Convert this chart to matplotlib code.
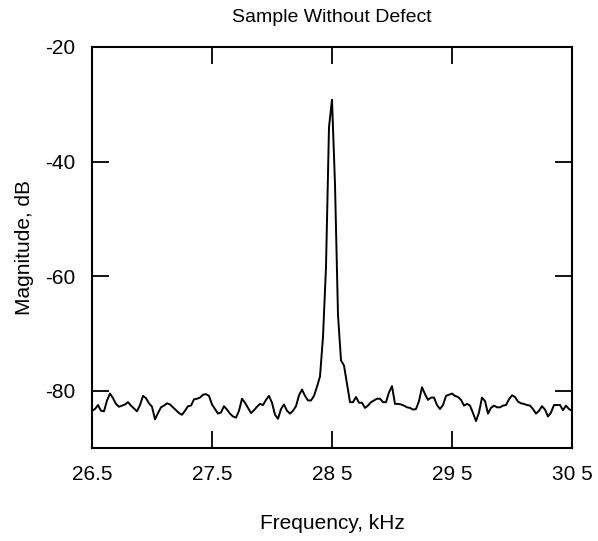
import numpy as np
import matplotlib
matplotlib.use("Agg")
import matplotlib.pyplot as plt

plt.rcParams['font.family'] = ['Liberation Sans', 'DejaVu Sans']

# frequency grid, kHz (0.025 kHz step)
freq = np.linspace(26.5, 30.5, 161)

# magnitude, dB
magnitude = [
    -83.5, -83.2, -82.5, -83.5, -83.6, -81.7, -80.5, -81.3, -82.3, -82.8,
    -82.6, -82.4, -82.0, -82.6, -83.1, -83.6, -82.5, -80.9, -81.3, -82.2,
    -82.8, -85.0, -83.9, -82.9, -82.6, -82.2, -82.4, -82.9, -83.4, -83.9,
    -84.2, -83.5, -82.7, -82.6, -81.5, -81.4, -81.2, -80.7, -80.6, -80.9,
    -82.4, -83.2, -84.0, -83.8, -82.7, -83.3, -84.0, -84.5, -84.7, -83.5,
    -81.4, -82.1, -83.0, -83.9, -83.4, -82.8, -82.3, -82.5, -81.6, -80.9,
    -82.1, -84.2, -84.9, -83.2, -82.4, -83.5, -84.0, -83.5, -82.7, -80.8,
    -79.8, -80.9, -81.7, -81.7, -80.9, -79.3, -77.5, -70.6, -58.4, -34.0,
    -29.2, -44.0, -66.8, -74.7, -75.6, -78.8, -82.0, -82.0, -81.1, -82.1,
    -82.1, -83.0, -82.6, -82.0, -81.7, -81.4, -81.4, -82.0, -82.0, -80.3,
    -79.2, -82.3, -82.3, -82.4, -82.6, -82.9, -83.0, -83.3, -83.2, -81.8,
    -79.4, -80.6, -81.6, -81.2, -81.2, -82.5, -83.2, -82.5, -80.9, -80.7,
    -80.5, -80.9, -81.1, -81.6, -82.6, -82.3, -82.6, -83.9, -85.3, -83.8,
    -81.2, -81.8, -84.0, -83.0, -82.6, -82.9, -82.9, -82.6, -82.5, -81.5,
    -80.8, -81.1, -81.9, -82.2, -82.3, -82.5, -82.6, -83.2, -84.0, -83.5,
    -82.7, -83.3, -84.5, -83.8, -82.5, -82.5, -82.5, -83.4, -82.6, -83.2,
    -83.5,
]

xticks = [26.5, 27.5, 28.5, 29.5, 30.5]
xtick_labels = ["26.5", "27.5", "28 5", "29 5", "30 5"]
yticks = [-20, -40, -60, -80]
ytick_labels = ["-20", "-40", "-60", "-80"]

fig = plt.figure(figsize=(5.98, 5.41), dpi=100)
ax = fig.add_axes([92 / 598, 1 - 448 / 541, 480 / 598, 401 / 541])

ax.plot(freq, magnitude, color='black', lw=1.4)

ax.set_xlim(26.5, 30.5)
ax.set_ylim(-90, -20)
ax.set_xticks(xticks)
ax.set_xticklabels(xtick_labels)
ax.set_yticks(yticks)
ax.set_yticklabels(ytick_labels)

ax.tick_params(direction='in', length=12, width=1.3, top=True, right=True,
               labelsize=15, pad=12, colors='black')
for s in ax.spines.values():
    s.set_linewidth(1.5)

ax.set_title("Sample Without Defect", fontsize=14, pad=18)
ax.set_xlabel("Frequency, kHz", fontsize=15, labelpad=22)
ax.set_ylabel("Magnitude, dB", fontsize=15, labelpad=8)

fig.savefig("out.png", dpi=100)
